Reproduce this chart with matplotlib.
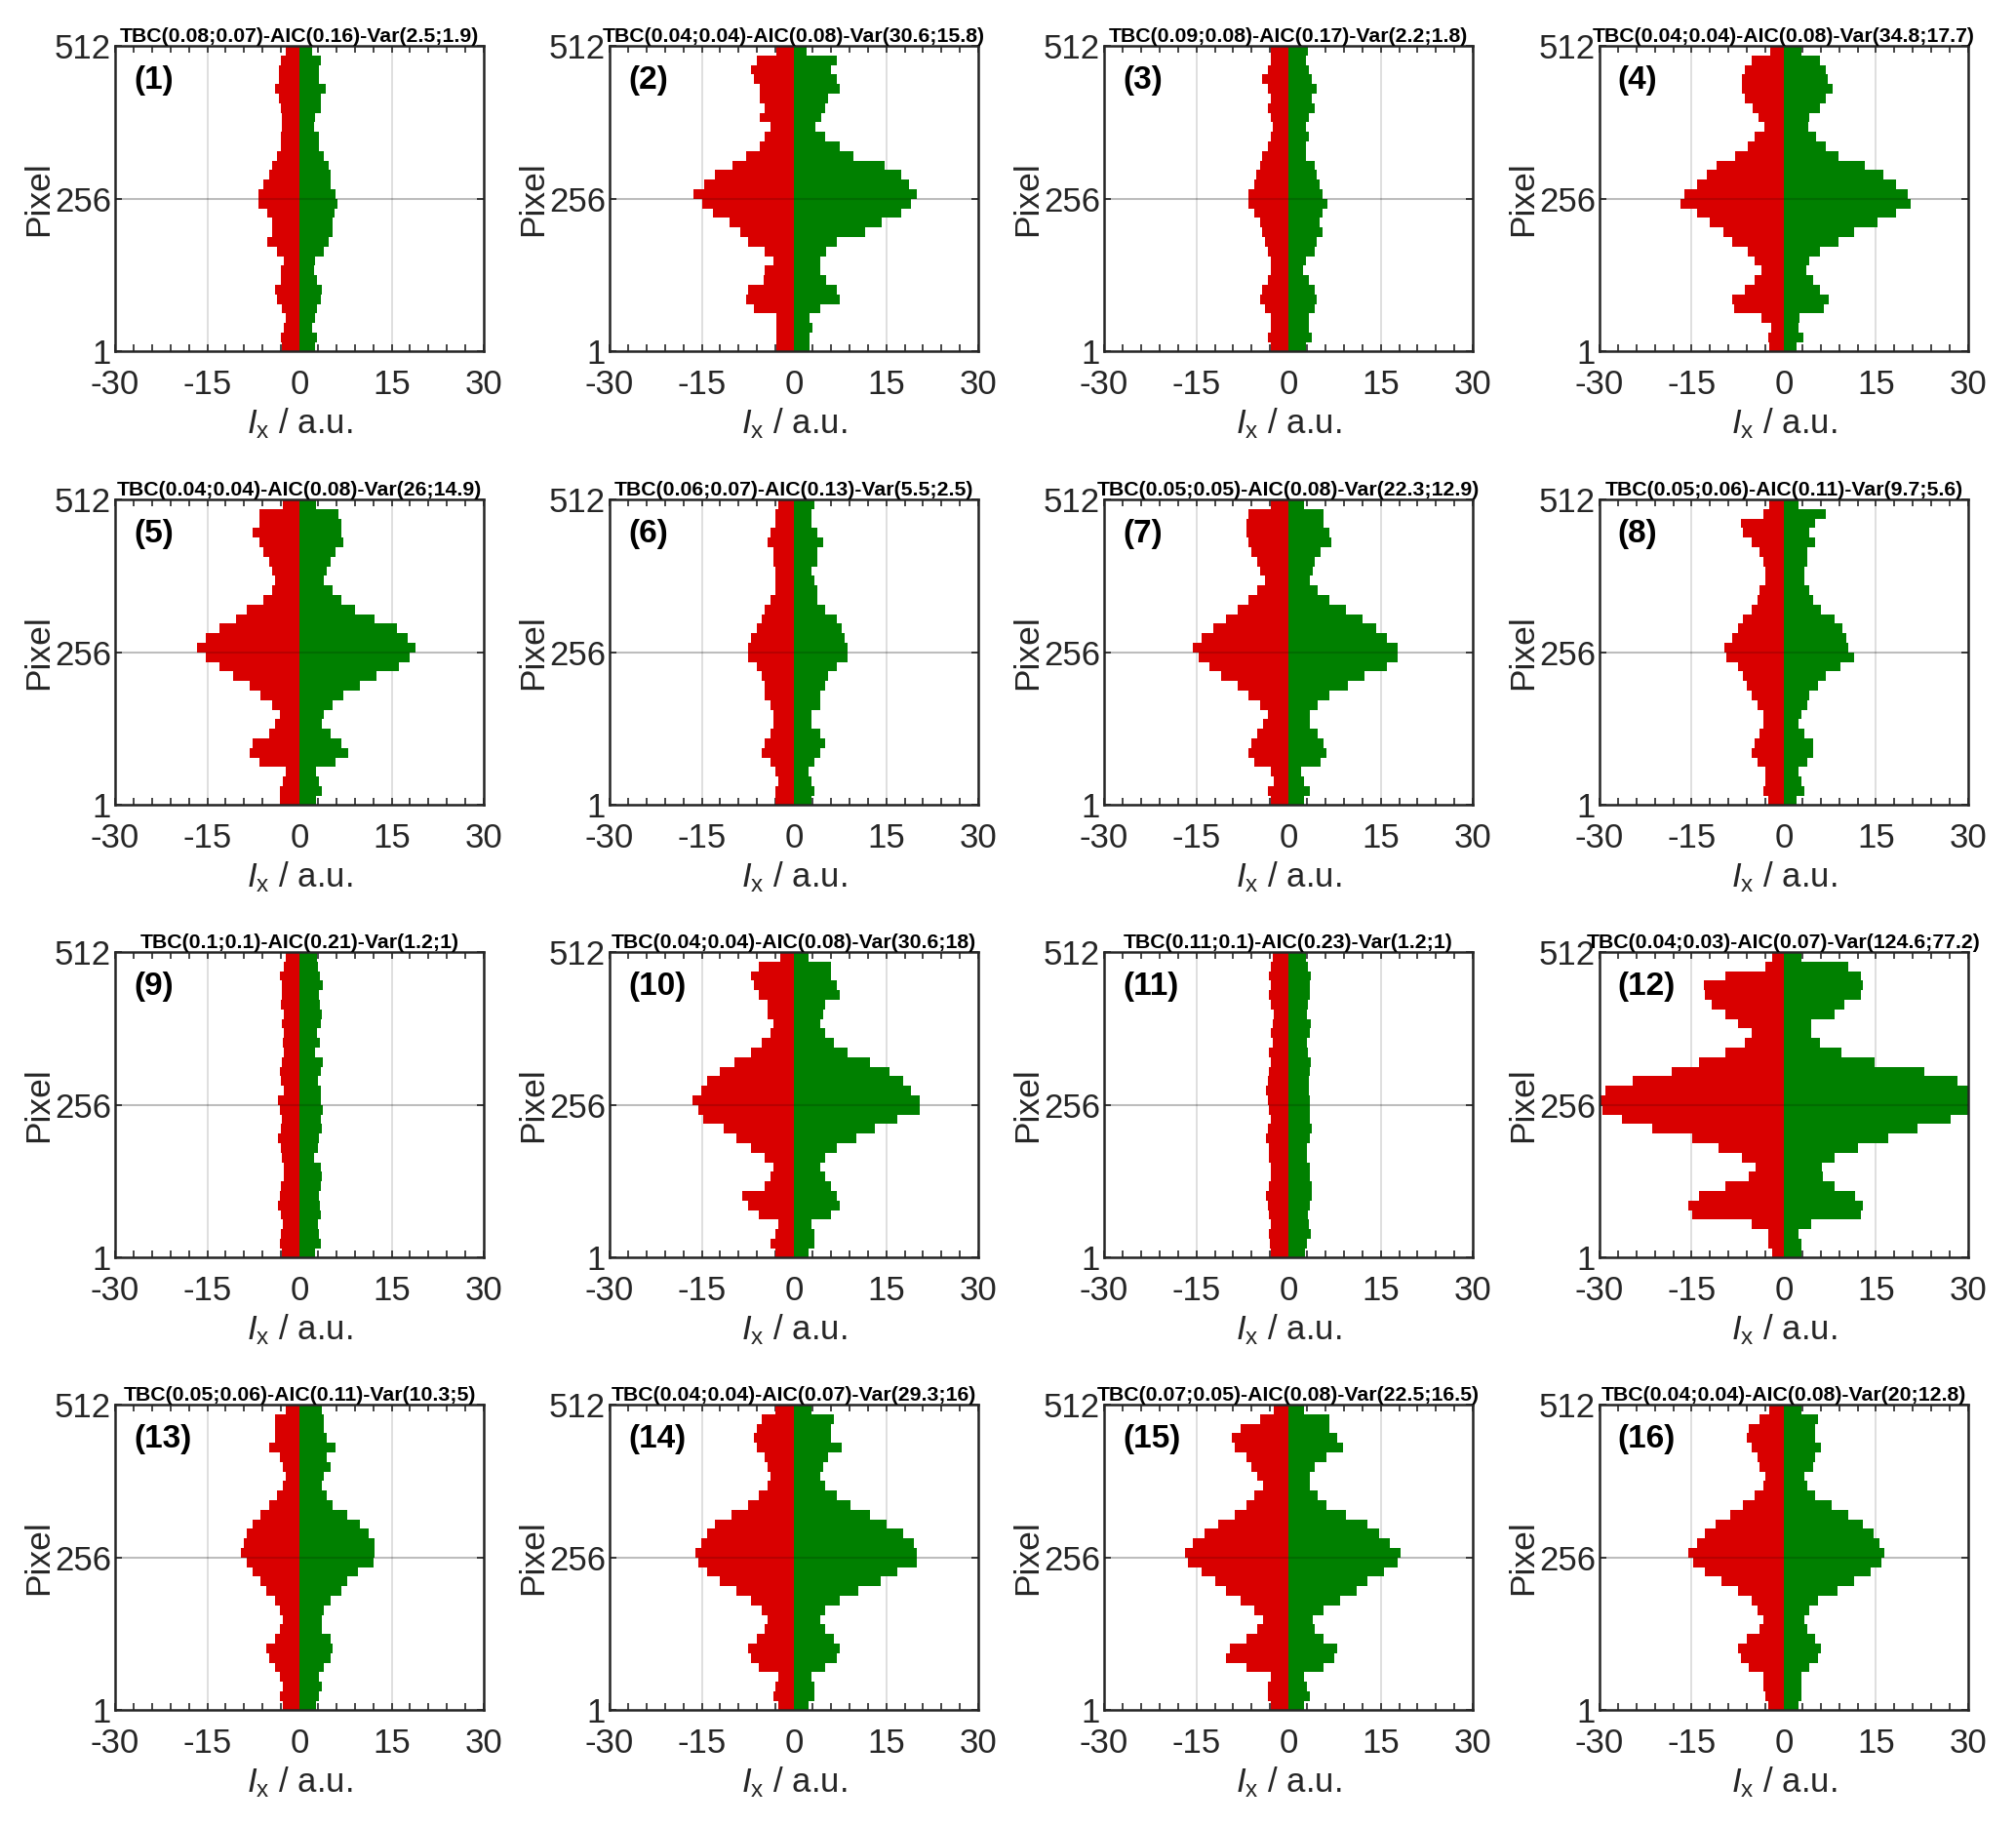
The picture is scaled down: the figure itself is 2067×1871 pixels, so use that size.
import numpy as np
import matplotlib.pyplot as plt
from matplotlib.ticker import MultipleLocator

plt.rcParams['font.family'] = ['Liberation Sans', 'DejaVu Sans']
plt.rcParams['mathtext.fontset'] = 'custom'
plt.rcParams['mathtext.rm'] = 'Liberation Sans'
plt.rcParams['mathtext.it'] = 'Liberation Sans:italic'
plt.rcParams['axes.unicode_minus'] = False

# profile values, 32 bins of 16 pixels, listed from pixel 512 down to 1
p1_red = [-2.3, -3.1, -3.4, -3.4, -4.0, -3.4, -3.1, -2.9, -2.9, -3.1, -3.1, -3.7, -4.5, -5.0, -5.9, -6.7,
          -6.7, -5.3, -4.5, -4.5, -5.3, -3.7, -2.6, -3.1, -3.1, -4.0, -3.7, -2.9, -2.3, -2.6, -3.1, -2.9]
p1_green = [2.1, 3.5, 3.2, 3.2, 4.3, 3.5, 3.5, 2.6, 2.4, 3.2, 3.2, 4.0, 4.8, 5.1, 5.1, 5.9,
            6.2, 5.7, 5.4, 5.4, 4.8, 4.0, 2.6, 2.4, 2.9, 3.7, 3.5, 2.9, 2.6, 2.1, 2.9, 2.6]
p2_red = [-2.9, -6.0, -7.0, -6.5, -5.5, -5.5, -4.7, -5.5, -3.8, -4.7, -5.5, -7.8, -10.0, -12.8, -14.6, -16.4,
          -15.0, -13.2, -10.5, -8.7, -7.4, -4.7, -3.3, -4.7, -5.0, -7.4, -7.8, -6.5, -2.9, -2.9, -2.9, -2.9]
p2_green = [2.1, 7.0, 6.0, 7.0, 7.5, 5.5, 5.0, 4.5, 3.5, 5.0, 7.5, 9.7, 14.7, 17.4, 18.7, 20.0,
            19.0, 17.4, 14.2, 11.5, 7.0, 5.2, 4.3, 4.3, 5.2, 7.0, 7.5, 4.3, 2.5, 3.0, 2.5, 2.5]
p3_red = [-2.9, -2.9, -3.4, -4.3, -3.4, -2.9, -3.4, -2.9, -2.5, -2.9, -3.4, -4.3, -4.7, -5.2, -5.6, -6.5,
          -6.5, -5.6, -4.7, -4.3, -3.8, -3.4, -2.9, -2.9, -3.4, -4.3, -4.7, -3.8, -2.9, -2.9, -3.4, -2.9]
p3_green = [3.1, 2.9, 3.3, 3.8, 4.6, 3.8, 4.2, 3.3, 2.9, 3.3, 2.9, 2.9, 4.2, 4.6, 5.1, 5.5,
            6.4, 5.5, 5.1, 5.5, 4.6, 4.2, 2.9, 2.4, 3.3, 4.2, 4.6, 4.2, 3.3, 3.3, 3.8, 2.9]
p4_red = [-2.2, -5.2, -6.3, -6.8, -6.8, -6.3, -5.0, -4.2, -3.1, -4.7, -5.8, -7.9, -11.0, -12.6, -14.1, -16.2,
          -16.8, -14.1, -12.0, -9.9, -8.4, -5.8, -4.7, -3.7, -4.7, -6.3, -8.4, -8.1, -3.7, -2.1, -2.6, -2.4]
p4_green = [2.9, 5.8, 6.8, 7.1, 7.9, 6.8, 5.8, 4.2, 3.9, 5.2, 6.8, 8.9, 13.1, 16.2, 18.3, 20.2,
            20.7, 18.3, 15.2, 11.5, 8.9, 5.8, 4.2, 3.7, 4.7, 5.8, 7.3, 6.5, 2.6, 2.4, 3.1, 2.1]
p5_red = [-2.7, -6.5, -6.5, -7.7, -6.5, -5.9, -5.0, -4.5, -4.0, -4.5, -5.9, -8.6, -10.4, -13.1, -15.3, -16.7,
          -15.3, -13.1, -10.8, -8.1, -6.3, -4.5, -3.2, -4.0, -5.0, -7.7, -8.1, -6.5, -2.3, -2.7, -3.2, -3.2]
p5_green = [2.7, 6.3, 6.8, 6.8, 7.2, 5.9, 5.0, 4.5, 4.0, 5.4, 6.8, 9.0, 12.2, 15.8, 17.6, 18.9,
            18.0, 16.2, 12.6, 9.9, 7.2, 5.4, 4.0, 3.6, 5.0, 6.8, 7.9, 5.9, 2.7, 3.2, 3.6, 2.7]
p6_red = [-2.5, -3.0, -3.0, -3.9, -4.3, -3.4, -3.4, -3.0, -3.0, -3.0, -3.9, -4.8, -5.2, -6.1, -7.0, -7.5,
          -7.5, -6.1, -5.2, -4.8, -4.8, -3.9, -3.4, -3.4, -3.9, -4.8, -5.2, -3.9, -3.0, -2.5, -3.0, -3.0]
p6_green = [3.3, 2.9, 2.9, 3.8, 4.7, 3.8, 3.8, 2.9, 3.3, 3.8, 3.8, 5.1, 6.9, 7.8, 8.3, 8.7,
            8.7, 6.9, 5.6, 5.1, 4.2, 4.2, 2.9, 2.9, 4.2, 5.1, 4.2, 3.3, 2.4, 2.9, 3.3, 2.9]
p7_red = [-2.9, -6.5, -6.9, -6.9, -6.5, -6.0, -5.1, -4.7, -3.8, -5.1, -6.5, -8.3, -10.1, -12.3, -14.1, -15.5,
          -14.6, -12.8, -11.0, -8.3, -6.5, -4.7, -3.3, -4.2, -5.1, -6.0, -6.5, -5.6, -2.9, -2.4, -3.3, -2.9]
p7_green = [2.5, 5.7, 5.7, 6.6, 7.0, 5.2, 4.3, 3.9, 3.4, 4.8, 6.6, 9.3, 12.0, 14.2, 16.0, 17.8,
            17.8, 16.0, 12.4, 9.7, 6.6, 4.8, 3.4, 3.4, 4.8, 5.7, 6.1, 5.2, 2.1, 2.5, 3.4, 2.5]
p8_red = [-2.3, -3.4, -7.0, -6.6, -5.2, -3.9, -3.4, -3.0, -3.0, -3.9, -4.3, -5.2, -6.6, -7.5, -8.4, -9.7,
          -9.3, -7.5, -6.6, -6.1, -5.2, -4.3, -3.4, -3.4, -3.9, -4.8, -5.2, -4.3, -3.0, -3.0, -3.4, -2.5]
p8_green = [2.4, 6.9, 5.1, 4.2, 5.1, 3.8, 3.8, 3.3, 3.3, 4.2, 4.7, 6.0, 8.3, 9.6, 10.1, 10.5,
            11.4, 9.2, 6.9, 5.6, 4.2, 3.8, 2.9, 2.4, 3.3, 4.7, 4.7, 3.8, 2.4, 2.9, 3.3, 2.0]
p9_red = [-2.2, -2.5, -3.2, -2.8, -2.8, -3.0, -2.5, -2.8, -2.5, -2.7, -2.5, -2.8, -3.2, -3.0, -2.5, -3.5,
          -3.2, -2.8, -3.0, -3.5, -3.0, -2.8, -2.5, -2.5, -3.0, -3.2, -3.5, -3.0, -2.7, -3.0, -3.2, -2.8]
p9_green = [2.8, 3.0, 3.3, 3.8, 3.2, 3.4, 3.6, 3.5, 2.8, 3.3, 2.5, 3.8, 3.5, 3.0, 3.5, 3.5,
            3.8, 3.5, 3.6, 3.2, 3.0, 2.3, 3.5, 3.6, 3.5, 3.2, 3.3, 3.5, 3.0, 3.2, 3.5, 2.5]
p10_red = [-2.3, -5.7, -7.0, -6.6, -5.7, -4.3, -4.3, -3.4, -3.9, -5.2, -7.0, -9.7, -12.0, -14.2, -15.1, -16.5,
           -15.6, -14.7, -11.5, -9.3, -7.0, -4.8, -3.4, -3.9, -4.8, -8.4, -7.5, -5.7, -2.5, -3.0, -3.9, -3.0]
p10_green = [2.4, 6.0, 6.0, 6.9, 7.4, 5.1, 4.7, 4.2, 5.1, 6.5, 8.7, 12.3, 15.5, 17.7, 19.1, 20.5,
             20.5, 16.8, 13.2, 10.1, 6.9, 5.1, 4.2, 5.1, 6.0, 6.9, 7.4, 6.0, 2.9, 3.3, 3.3, 2.4]
p11_red = [-2.6, -2.9, -3.2, -2.9, -3.2, -2.9, -2.4, -2.6, -2.9, -2.6, -3.2, -2.9, -3.2, -3.4, -3.6, -3.4,
           -3.2, -2.9, -3.4, -3.6, -3.2, -3.2, -2.9, -2.9, -3.2, -3.6, -3.4, -3.2, -2.9, -3.2, -3.0, -2.9]
p11_green = [2.8, 3.2, 3.6, 3.5, 3.4, 3.2, 3.0, 3.6, 3.4, 3.0, 3.2, 3.6, 3.4, 3.3, 3.3, 3.5,
             3.5, 3.4, 3.8, 3.4, 3.0, 3.0, 3.4, 3.4, 3.8, 3.8, 3.4, 3.2, 3.3, 3.6, 3.0, 2.6]
p12_red = [-1.9, -3.0, -9.5, -13.0, -12.8, -11.7, -9.5, -7.4, -5.2, -6.3, -9.5, -13.8, -18.2, -24.6, -29.0, -31.0,
           -29.5, -26.3, -21.4, -14.9, -10.6, -6.8, -4.6, -5.7, -9.5, -13.8, -15.5, -14.9, -5.2, -2.5, -2.5, -1.9]
p12_green = [2.9, 10.5, 12.6, 12.9, 12.6, 9.9, 8.3, 4.5, 4.5, 5.9, 9.4, 14.8, 22.9, 28.3, 31.0, 32.0,
             31.0, 27.2, 21.8, 17.0, 12.1, 8.3, 6.2, 6.4, 8.3, 11.6, 12.9, 12.6, 4.5, 2.4, 2.9, 2.9]
p13_red = [-2.3, -4.0, -4.0, -4.0, -5.0, -3.2, -2.7, -2.3, -2.7, -3.6, -5.0, -6.3, -7.7, -8.6, -9.0, -9.5,
           -8.6, -7.7, -6.3, -5.4, -4.0, -3.2, -2.7, -3.2, -4.0, -5.4, -5.0, -4.0, -3.2, -2.7, -3.2, -2.7]
p13_green = [3.6, 4.0, 4.0, 4.5, 5.9, 4.5, 5.0, 4.0, 3.6, 4.5, 5.4, 7.7, 9.9, 11.3, 12.2, 12.2,
             12.0, 9.5, 7.7, 6.8, 5.0, 4.0, 3.6, 3.6, 5.0, 5.4, 5.0, 4.0, 3.2, 3.6, 3.2, 2.7]
p14_red = [-3.0, -5.2, -6.1, -6.6, -6.1, -4.8, -4.3, -3.9, -4.3, -5.7, -7.5, -10.2, -12.9, -14.2, -15.1, -16.0,
           -15.6, -14.2, -12.0, -9.3, -7.0, -5.2, -4.3, -4.8, -6.1, -7.5, -7.0, -5.7, -2.5, -3.0, -3.4, -2.5]
p14_green = [2.9, 6.5, 6.0, 6.0, 7.8, 5.6, 4.7, 4.2, 5.1, 6.9, 9.2, 12.3, 15.0, 17.7, 19.5, 20.0,
             20.0, 16.8, 14.1, 10.5, 7.4, 5.1, 4.2, 5.1, 6.5, 7.4, 6.9, 5.1, 2.9, 3.3, 3.3, 2.4]
p15_red = [-2.4, -4.7, -7.8, -9.2, -8.7, -6.9, -6.0, -5.1, -4.2, -5.6, -6.9, -8.7, -11.4, -13.7, -15.5, -16.8,
           -16.4, -14.1, -11.9, -10.1, -7.8, -5.6, -4.2, -5.1, -6.9, -9.6, -10.1, -6.9, -2.9, -3.3, -3.3, -2.9]
p15_green = [2.5, 6.6, 6.6, 7.9, 8.8, 6.1, 4.3, 3.4, 3.4, 4.8, 6.1, 9.3, 12.9, 14.7, 16.5, 18.3,
             17.8, 15.6, 12.9, 11.1, 8.4, 5.7, 3.9, 4.3, 5.7, 7.9, 7.5, 5.7, 2.5, 3.0, 3.4, 2.5]
p16_red = [-2.3, -3.9, -5.7, -6.1, -5.2, -4.3, -3.9, -3.0, -3.4, -4.8, -6.6, -8.8, -11.1, -12.9, -14.2, -15.6,
           -14.7, -12.9, -10.2, -7.5, -5.2, -4.3, -3.4, -3.9, -6.1, -7.5, -7.0, -5.7, -3.4, -3.4, -3.0, -2.5]
p16_green = [2.9, 5.6, 5.1, 5.1, 6.0, 5.1, 4.7, 3.3, 3.8, 5.1, 7.8, 10.5, 12.8, 14.6, 15.5, 16.4,
             15.9, 14.1, 11.4, 8.7, 5.6, 4.2, 3.3, 3.8, 5.1, 6.0, 5.6, 4.2, 2.9, 2.9, 2.9, 2.4]

titles = ['TBC(0.08;0.07)-AIC(0.16)-Var(2.5;1.9)', 'TBC(0.04;0.04)-AIC(0.08)-Var(30.6;15.8)',
          'TBC(0.09;0.08)-AIC(0.17)-Var(2.2;1.8)', 'TBC(0.04;0.04)-AIC(0.08)-Var(34.8;17.7)',
          'TBC(0.04;0.04)-AIC(0.08)-Var(26;14.9)', 'TBC(0.06;0.07)-AIC(0.13)-Var(5.5;2.5)',
          'TBC(0.05;0.05)-AIC(0.08)-Var(22.3;12.9)', 'TBC(0.05;0.06)-AIC(0.11)-Var(9.7;5.6)',
          'TBC(0.1;0.1)-AIC(0.21)-Var(1.2;1)', 'TBC(0.04;0.04)-AIC(0.08)-Var(30.6;18)',
          'TBC(0.11;0.1)-AIC(0.23)-Var(1.2;1)', 'TBC(0.04;0.03)-AIC(0.07)-Var(124.6;77.2)',
          'TBC(0.05;0.06)-AIC(0.11)-Var(10.3;5)', 'TBC(0.04;0.04)-AIC(0.07)-Var(29.3;16)',
          'TBC(0.07;0.05)-AIC(0.08)-Var(22.5;16.5)', 'TBC(0.04;0.04)-AIC(0.08)-Var(20;12.8)']

reds = [p1_red, p2_red, p3_red, p4_red, p5_red, p6_red, p7_red, p8_red,
        p9_red, p10_red, p11_red, p12_red, p13_red, p14_red, p15_red, p16_red]
greens = [p1_green, p2_green, p3_green, p4_green, p5_green, p6_green, p7_green, p8_green,
          p9_green, p10_green, p11_green, p12_green, p13_green, p14_green, p15_green, p16_green]

bin_low = np.arange(496, -1, -16)  # lower edge of each 16-pixel bin, top bin first

RED = '#d90000'
GREEN = '#008000'
DARK = '#262626'

fig = plt.figure(figsize=(20.67, 18.71), dpi=100)
lefts = [0.0571, 0.3024, 0.5477, 0.7934]
bottoms = [0.8076, 0.5591, 0.3111, 0.0631]
w, h = 0.1829, 0.1673

for i in range(16):
    r, c = divmod(i, 4)
    ax = fig.add_axes([lefts[c], bottoms[r], w, h])
    ax.set_axisbelow(True)
    ax.barh(bin_low, reds[i], height=16, align='edge', color=RED, linewidth=0)
    ax.barh(bin_low, greens[i], height=16, align='edge', color=GREEN, linewidth=0)
    ax.axhline(256, color='k', alpha=0.15, lw=1.5, zorder=5)
    ax.set_xlim(-30, 30)
    ax.set_ylim(1, 512)
    ax.set_xticks([-30, -15, 0, 15, 30])
    ax.xaxis.set_minor_locator(MultipleLocator(3))
    ax.set_yticks([1, 256, 512])
    ax.grid(True, which='major', color='k', alpha=0.15, lw=1.2)
    ax.tick_params(which='both', direction='in', top=True, right=True, color=DARK,
                   labelcolor=DARK, labelsize=25, length=5, width=1.2)
    ax.tick_params(axis='x', pad=13)
    ax.tick_params(axis='y', pad=3)
    for s in ax.spines.values():
        s.set_color(DARK)
        s.set_linewidth(1.8)
    ax.set_title(titles[i], fontsize=15.3, fontweight='bold', pad=3)
    ax.text(0.05, 0.885, '(%d)' % (i + 1), transform=ax.transAxes, fontsize=24,
            fontweight='bold', va='center', ha='left')
    ax.set_ylabel('Pixel', fontsize=25.5, color=DARK, labelpad=0)
    ax.set_xlabel(r'$\mathit{I}_{\mathrm{x}}$ / a.u.', fontsize=25, color=DARK, labelpad=4)

fig.savefig('out.png', dpi=100)
